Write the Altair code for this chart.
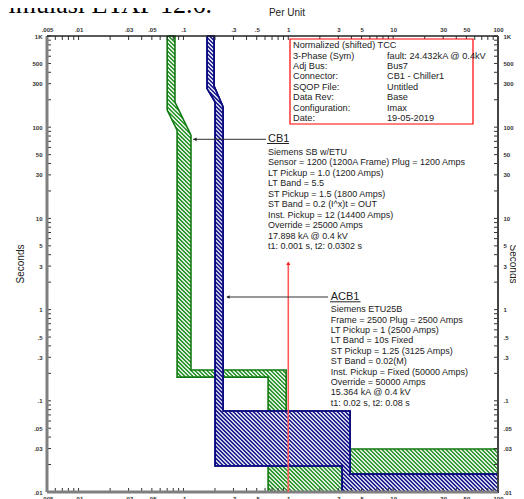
import math
import altair as alt
import pandas as pd

# ---------------- data ----------------
X_LABELS = [0.005, 0.01, 0.03, 0.05, 0.1, 0.3, 0.5, 1, 3, 5, 10, 30, 50, 100]
Y_LABELS = [0.01, 0.03, 0.05, 0.1, 0.3, 0.5, 1, 3, 5, 10, 30, 50, 100, 300, 500, 1000]
MANTISSAS = [1, 2, 3, 4, 5, 6, 7, 8, 9]
X_DECADES = [0.001, 0.01, 0.1, 1, 10, 100]
Y_DECADES = [0.01, 0.1, 1, 10, 100, 1000]
X_DOMAIN = [0.005, 100]
Y_DOMAIN = [0.01, 1000]

# CB1 (green) band outline: current (per unit) / time (s)
CB1_I = [0.070, 0.070, 0.087, 0.087, 0.642, 0.642, 100, 100, 0.955, 0.955, 0.118, 0.118, 0.083, 0.083, 0.070]
CB1_T = [1000, 154, 93, 0.182, 0.182, 0.01, 0.01, 0.0296, 0.0296, 0.218, 0.218, 82, 189, 1000, 1000]

# ACB1 (blue) band outline
ACB1_I = [0.168, 0.168, 0.2005, 0.2005, 3.26, 3.26, 100, 100, 3.89, 3.89, 0.239, 0.239, 0.196, 0.196, 0.168]
ACB1_T = [1000, 265, 189, 0.0193, 0.0193, 0.01, 0.01, 0.0157, 0.0157, 0.0773, 0.0773, 167, 283, 1000, 1000]

FAULT_I = [1.0]
FAULT_T_TOP = [3.22]
FAULT_T_BOTTOM = [0.01]

INFO_LEFT = ["Normalized (shifted) TCC", "3-Phase  (Sym)", "Adj   Bus:", "Connector:",
             "SQOP   File:", "Data   Rev:", "Configuration:", "Date:"]
INFO_RIGHT = ["", "fault: 24.432kA @ 0.4kV", "Bus7", "CB1 - Chiller1", "Untitled",
              "Base", "Imax", "19-05-2019"]
CB1_TITLE = "CB1"
CB1_LINES = ["Siemens  SB w/ETU",
             "Sensor = 1200 (1200A Frame)  Plug = 1200 Amps",
             "LT Pickup = 1.0 (1200 Amps)",
             "LT Band = 5.5",
             "ST Pickup = 1.5 (1800 Amps)",
             "ST Band = 0.2  (I^x)t = OUT",
             "Inst. Pickup = 12 (14400 Amps)",
             "Override = 25000 Amps",
             "17.898 kA @ 0.4 kV",
             "t1: 0.001 s, t2: 0.0302 s"]
ACB1_TITLE = "ACB1"
ACB1_LINES = ["Siemens  ETU25B",
              "Frame = 2500 Plug = 2500 Amps",
              "LT Pickup = 1 (2500 Amps)",
              "LT Band = 10s Fixed",
              "ST Pickup = 1.25 (3125 Amps)",
              "ST Band = 0.02(M)",
              "Inst. Pickup =  Fixed (50000 Amps)",
              "Override = 50000 Amps",
              "15.364 kA @ 0.4 kV",
              "t1: 0.02 s, t2: 0.08 s"]
X_TITLE = "Per Unit"
Y_TITLE = "Seconds"
DOC_TEXT = "Simulasi ETAP 12.6."

# ---------------- layout / style ----------------
W, H = 451, 456
FONT = "Liberation Sans"
xs = alt.Scale(type="log", domain=X_DOMAIN, nice=False)
ys = alt.Scale(type="log", domain=Y_DOMAIN, nice=False)
LX0, LX1 = math.log10(X_DOMAIN[0]), math.log10(X_DOMAIN[1])
LY0, LY1 = math.log10(Y_DOMAIN[0]), math.log10(Y_DOMAIN[1])


def px_x(v):
    return W * (math.log10(v) - LX0) / (LX1 - LX0)


def px_y(v):
    return H * (LY1 - math.log10(v)) / (LY1 - LY0)


def inv_x(p):
    return 10 ** (LX0 + p / W * (LX1 - LX0))


def inv_y(p):
    return 10 ** (LY1 - p / H * (LY1 - LY0))


def hatch_segments(I, T, spacing=4.0, phase=0.37):
    """Diagonal hatch strokes clipped to the band outline."""
    P = [(px_x(a), px_y(b)) for a, b in zip(I, T)]
    vals = [x - y for x, y in P]
    cmin, cmax = min(vals), max(vals)
    rows = []
    c = cmin + phase
    while c < cmax:
        hits = []
        for (ax, ay), (bx, by) in zip(P[:-1], P[1:]):
            den = (bx - ax) - (by - ay)
            if abs(den) < 1e-9:
                continue
            t = (c - (ax - ay)) / den
            if 0 <= t < 1:
                hits.append(ax + t * (bx - ax))
        hits.sort()
        for j in range(0, len(hits) - 1, 2):
            x1, x2 = hits[j], hits[j + 1]
            rows.append({"x1": inv_x(x1), "y1": inv_y(x1 - c),
                         "x2": inv_x(x2), "y2": inv_y(x2 - c)})
        c += spacing
    return pd.DataFrame(rows)


label_expr = ("datum.value >= 1000 ? '1K' : (datum.value < 1 ? "
              "slice(format(datum.value, '~g'), 1) : format(datum.value, '~g'))")


def make_axis(orient, values, pad):
    return alt.Axis(orient=orient, values=values, labelExpr=label_expr, domain=False,
                    ticks=False, tickSize=0, grid=False, labelFontSize=6, labelPadding=pad,
                    labelFlush=False, labelOverlap=False, title=None, labelFont=FONT,
                    labelColor="#333333", labelFontWeight="bold")


def outline(I, T, stroke, fill=None, ax_x=None, ax_y=None, width=1.6):
    df = pd.DataFrame({"I": I, "T": T, "i": list(range(len(I)))})
    kw = dict(stroke=stroke, strokeWidth=width, strokeJoin="miter")
    if fill is not None:
        kw["fill"] = fill
    return alt.Chart(df).mark_line(**kw).encode(
        x=alt.X("I:Q", scale=xs, axis=ax_x),
        y=alt.Y("T:Q", scale=ys, axis=ax_y),
        order=alt.Order("i:Q"),
    )


def hatch(I, T, color, width):
    return alt.Chart(hatch_segments(I, T)).mark_rule(
        color=color, strokeWidth=width, strokeCap="butt"
    ).encode(
        x=alt.X("x1:Q", scale=xs, axis=None), y=alt.Y("y1:Q", scale=ys, axis=None),
        x2="x2:Q", y2="y2:Q",
    )


one = pd.DataFrame({"a": [0]})

green_layers = [
    hatch(CB1_I, CB1_T, "#1e8e1e", 1.5),
    outline(CB1_I, CB1_T, "#127a12", ax_x=make_axis("top", X_LABELS, 4),
            ax_y=make_axis("left", Y_LABELS, 5)),
]
blue_layers = [
    outline(ACB1_I, ACB1_T, "#0c0c80", fill="#ffffff"),
    hatch(ACB1_I, ACB1_T, "#14148a", 1.6),
    outline(ACB1_I, ACB1_T, "#0c0c80", ax_x=make_axis("bottom", X_LABELS, 3),
            ax_y=make_axis("right", Y_LABELS, 5)),
]

x_ticks = sorted({round(m * d, 6) for d in X_DECADES for m in MANTISSAS
                  if X_DOMAIN[0] <= round(m * d, 6) <= X_DOMAIN[1]})
y_ticks = sorted({round(m * d, 6) for d in Y_DECADES for m in MANTISSAS
                  if Y_DOMAIN[0] <= round(m * d, 6) <= Y_DOMAIN[1]})
xt = pd.DataFrame({"v": x_ticks})
yt = pd.DataFrame({"v": y_ticks})
tick_top = alt.Chart(xt).mark_rule(color="#333333", strokeWidth=1).encode(
    x=alt.X("v:Q", scale=xs, axis=None), y=alt.value(0), y2=alt.value(4))
tick_bot = alt.Chart(xt).mark_rule(color="#333333", strokeWidth=1).encode(
    x=alt.X("v:Q", scale=xs, axis=None), y=alt.value(H), y2=alt.value(H - 4))
tick_left = alt.Chart(yt).mark_rule(color="#333333", strokeWidth=1).encode(
    y=alt.Y("v:Q", scale=ys, axis=None), x=alt.value(0), x2=alt.value(4))
tick_right = alt.Chart(yt).mark_rule(color="#333333", strokeWidth=1).encode(
    y=alt.Y("v:Q", scale=ys, axis=None), x=alt.value(W), x2=alt.value(W - 4))

frame = [
    alt.Chart(one).mark_rule(color="#808080", strokeWidth=3).encode(
        x=alt.value(0), y=alt.value(0), y2=alt.value(H)),
    alt.Chart(one).mark_rule(color="#808080", strokeWidth=3).encode(
        y=alt.value(H), x=alt.value(0), x2=alt.value(W)),
    alt.Chart(one).mark_rule(color="#222222", strokeWidth=1.5).encode(
        y=alt.value(0), x=alt.value(0), x2=alt.value(W)),
    alt.Chart(one).mark_rule(color="#444444", strokeWidth=2).encode(
        x=alt.value(W), y=alt.value(0), y2=alt.value(H)),
]

fault_df = pd.DataFrame({"I": FAULT_I, "t1": FAULT_T_TOP, "t2": FAULT_T_BOTTOM})
fault_line = alt.Chart(fault_df).mark_rule(color="#ff5a5a", strokeWidth=1.6).encode(
    x=alt.X("I:Q", scale=xs, axis=None), y=alt.Y("t1:Q", scale=ys, axis=None), y2="t2:Q")
fault_head = alt.Chart(fault_df).mark_point(shape="triangle-up", filled=True, size=18,
                                            color="#ff2020", opacity=1).encode(
    x=alt.X("I:Q", scale=xs, axis=None), y=alt.Y("t1:Q", scale=ys, axis=None))


def rule(x1, x2, y, color="#333333", width=1.0):
    return alt.Chart(one).mark_rule(color=color, strokeWidth=width).encode(
        x=alt.value(x1), x2=alt.value(x2), y=alt.value(y))


def head(x, y, shape):
    return alt.Chart(one).mark_point(shape=shape, filled=True, size=14, color="#222222",
                                     opacity=1).encode(x=alt.value(x), y=alt.value(y))


def text(s, x, y, size=9, align="left", baseline="alphabetic", angle=0, font=FONT,
         color="#222222", lh=10.4):
    return alt.Chart(one).mark_text(
        text=s, lineBreak="\n", lineHeight=lh, align=align, baseline=baseline, angle=angle,
        fontSize=size, font=font, color=color
    ).encode(x=alt.value(x), y=alt.value(y))


info_box = alt.Chart(one).mark_rect(fill="white", stroke="#ff0000", strokeWidth=1.2).encode(
    x=alt.value(243), x2=alt.value(426), y=alt.value(3), y2=alt.value(88))

layers = [
    *green_layers, *blue_layers,
    tick_top, tick_bot, tick_left, tick_right,
    *frame,
    fault_line, fault_head,
    info_box,
    text("\n".join(INFO_LEFT), 246, 12.3, size=9.2),
    text("\n".join(INFO_RIGHT), 340, 12.3, size=9.2),
    rule(146, 219, 103.3), head(148, 103.3, "triangle-left"),
    text(CB1_TITLE, 221, 105.7, size=11),
    rule(220, 242, 107.5, color="#222222", width=1),
    text("\n".join(CB1_LINES), 221, 119, lh=10.45),
    rule(180, 281, 261), head(181, 261, "triangle-left"),
    text(ACB1_TITLE, 283.7, 264, size=11),
    rule(283, 313.5, 265.8, color="#222222", width=1),
    text("\n".join(ACB1_LINES), 283.7, 276.3, lh=10.37),
    text(X_TITLE, 240, -23, size=10, align="center", baseline="middle"),
    text(Y_TITLE, -26, 228, size=10, align="center", baseline="middle", angle=270),
    text(Y_TITLE, 466, 228, size=10, align="center", baseline="middle", angle=90),
    text(DOC_TEXT, -53, -23, size=26, font="Liberation Serif", color="#000000"),
]

chart = alt.layer(*layers).resolve_axis(x="independent", y="independent").properties(
    width=W, height=H,
    autosize=alt.AutoSizeParams(type="none"),
    padding={"left": 39, "top": 28, "right": 18, "bottom": 7},
    background="white",
).configure_view(stroke=None)

chart.save("out.html", embed_options={"renderer": "svg", "actions": False})
